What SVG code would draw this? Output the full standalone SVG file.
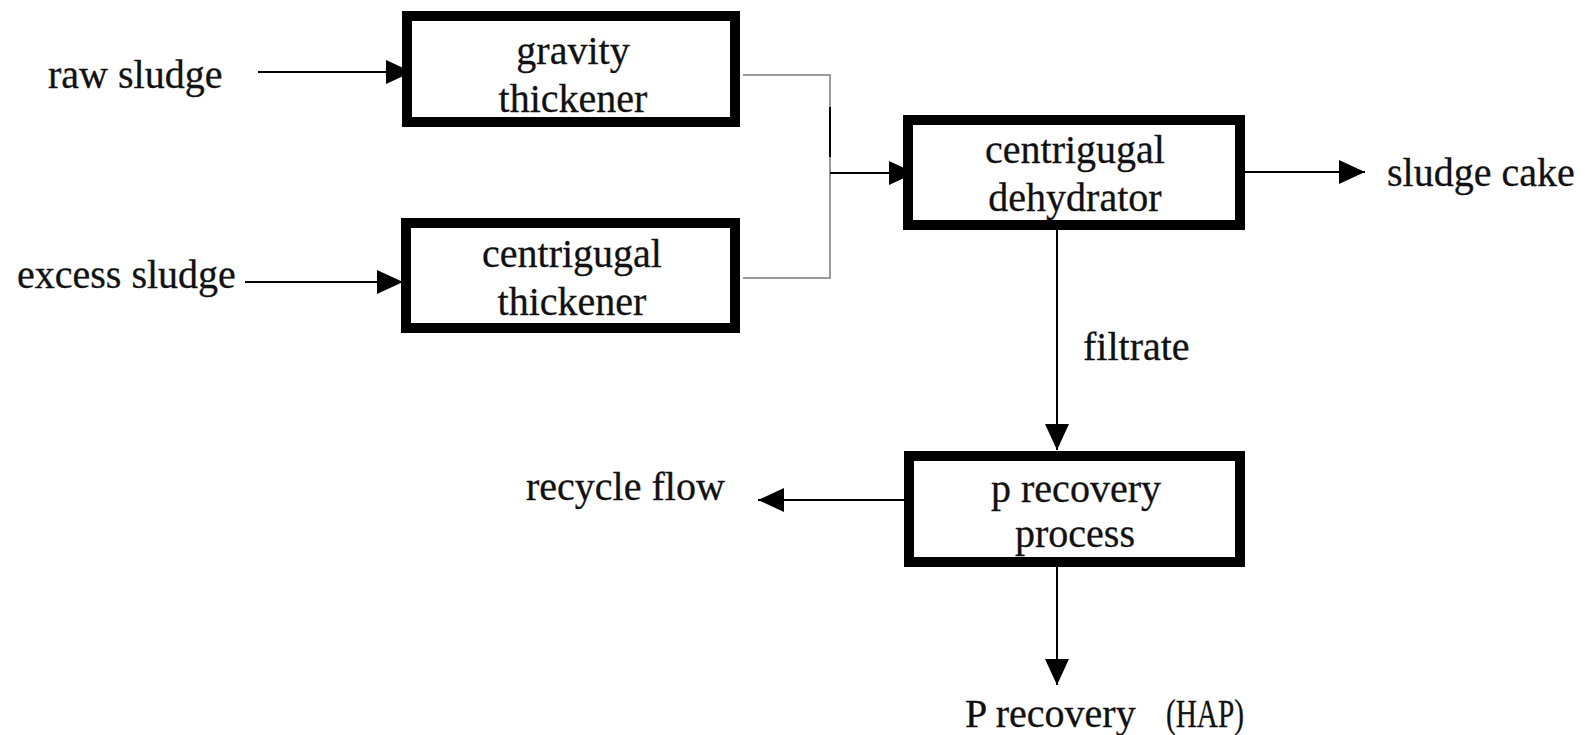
<svg xmlns="http://www.w3.org/2000/svg" width="1595" height="735" viewBox="0 0 1595 735">
<style>
  .box { fill: #fff; stroke: #000; stroke-width: 10; }
  .t { font-family: "Liberation Serif", "Times New Roman", serif; font-size: 40px; fill: #111; stroke: #111; stroke-width: 0.3; }
  .c { text-anchor: middle; }
  .ln { fill: none; stroke: #000; stroke-width: 2; }
  .gray { fill: none; stroke: #9a9a9a; stroke-width: 2; }
</style>
<defs>
  <marker id="arr" viewBox="0 0 26 26" refX="26" refY="13" markerWidth="26" markerHeight="26" markerUnits="userSpaceOnUse" orient="auto">
    <path d="M0,1 L26,13 L0,25 z" fill="#000"/>
  </marker>
</defs>
<rect width="1595" height="735" fill="#fff"/>

<g id="connectors">
  <path class="gray" d="M743,75 H830 V278 H743"/>
  <path class="ln" d="M830,107 V157" stroke-width="1.5"/>
  <line class="ln" x1="258" y1="72" x2="412" y2="72" marker-end="url(#arr)"/>
  <line class="ln" x1="245" y1="282" x2="403" y2="282" marker-end="url(#arr)"/>
  <line class="ln" x1="830" y1="173" x2="915" y2="173" marker-end="url(#arr)"/>
  <line class="ln" x1="1245" y1="172" x2="1365" y2="172" marker-end="url(#arr)"/>
  <line class="ln" x1="1057" y1="230" x2="1057" y2="450" marker-end="url(#arr)"/>
  <line class="ln" x1="904" y1="500" x2="758" y2="500" marker-end="url(#arr)"/>
  <line class="ln" x1="1057" y1="567" x2="1057" y2="685" marker-end="url(#arr)"/>
</g>

<g id="gravity-thickener">
  <rect class="box" x="407" y="16" width="328" height="106"/>
  <text class="t c" x="573" y="64">gravity</text>
  <text class="t c" x="573" y="112">thickener</text>
</g>

<g id="centrifugal-thickener">
  <rect class="box" x="406" y="223" width="329" height="105"/>
  <text class="t c" x="572" y="267">centrigugal</text>
  <text class="t c" x="572" y="315">thickener</text>
</g>

<g id="centrifugal-dehydrator">
  <rect class="box" x="908" y="120" width="332" height="105"/>
  <text class="t c" x="1075" y="163">centrigugal</text>
  <text class="t c" x="1075" y="211">dehydrator</text>
</g>

<g id="p-recovery-process">
  <rect class="box" x="909" y="456" width="331" height="106"/>
  <text class="t c" x="1076" y="502">p recovery</text>
  <text class="t c" x="1075" y="547">process</text>
</g>

<g id="labels">
  <text class="t" x="48" y="88">raw sludge</text>
  <text class="t" x="17" y="288">excess sludge</text>
  <text class="t" x="1387" y="186">sludge cake</text>
  <text class="t" x="1083" y="360">filtrate</text>
  <text class="t" x="526" y="500">recycle flow</text>
  <text class="t" x="965" y="727">P recovery</text>
  <text class="t" x="1166" y="727" textLength="78" lengthAdjust="spacingAndGlyphs">(HAP)</text>
</g>
</svg>
